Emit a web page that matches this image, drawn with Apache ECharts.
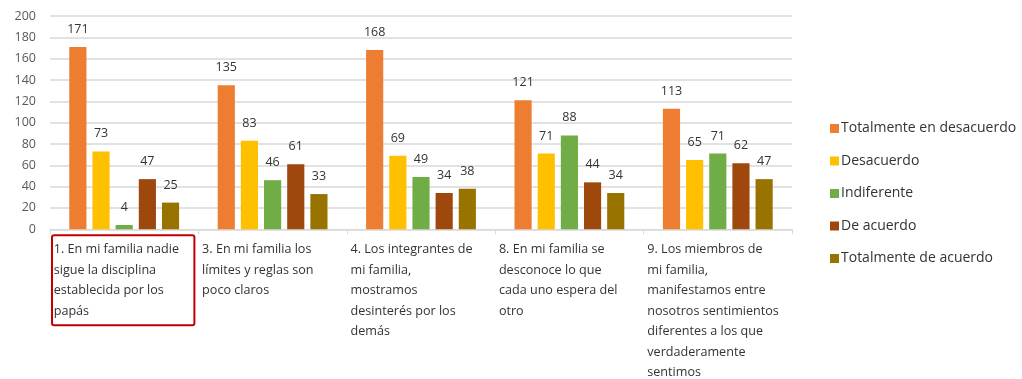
<!DOCTYPE html>
<html>
<head>
<meta charset="utf-8">
<script src="https://cdn.jsdelivr.net/npm/echarts@6/dist/echarts.min.js"></script>
<style>
  html, body { margin: 0; padding: 0; background: #fff; }
  #chart { width: 1022px; height: 379px; }
</style>
</head>
<body>
<div id="chart"></div>
<script>
// Survey items (category labels, line breaks as displayed)
const categories = [
  '1. En mi familia nadie\nsigue la disciplina\nestablecida por los\npapás',
  '3. En mi familia los\nlímites y reglas son\npoco claros',
  '4. Los integrantes de\nmi familia,\nmostramos\ndesinterés por los\ndemás',
  '8. En mi familia se\ndesconoce lo que\ncada uno espera del\notro',
  '9. Los miembros de\nmi familia,\nmanifestamos entre\nnosotros sentimientos\ndiferentes a los que\nverdaderamente\nsentimos'
];

const seriesNames = [
  'Totalmente en desacuerdo',
  'Desacuerdo',
  'Indiferente',
  'De acuerdo',
  'Totalmente de acuerdo'
];

// Responses per answer option
const totalmenteDesacuerdo = [171, 135, 168, 121, 113];
const desacuerdo = [73, 83, 69, 71, 65];
const indiferente = [4, 46, 49, 88, 71];
const deAcuerdo = [47, 61, 34, 44, 62];
const totalmenteAcuerdo = [25, 33, 38, 34, 47];

const yTicks = { min: 0, max: 200, interval: 20 };

const seriesData = [totalmenteDesacuerdo, desacuerdo, indiferente, deAcuerdo, totalmenteAcuerdo];
const colors = ['#ED7D31', '#FFC000', '#70AD47', '#9E480E', '#997300'];

const FONT = '"Open Sans", "Noto Sans", sans-serif';

const chart = echarts.init(document.getElementById('chart'));

const option = {
  animation: false,
  backgroundColor: '#ffffff',
  textStyle: { fontFamily: FONT },
  grid: { left: 50, right: 230, top: 16, bottom: 148, containLabel: false },
  legend: {
    orient: 'vertical',
    left: 825,
    top: 114,
    itemWidth: 9,
    itemHeight: 9,
    itemGap: 13.5,
    icon: 'rect',
    textStyle: { fontFamily: FONT, fontSize: 14, lineHeight: 19, color: '#333333', padding: [0, 0, 0, -3] },
    data: seriesNames
  },
  xAxis: {
    type: 'category',
    data: categories,
    axisLine: { show: true, lineStyle: { color: '#d9d9d9', width: 1 } },
    axisTick: { show: true, length: 5, lineStyle: { color: '#d9d9d9' } },
    axisLabel: {
      interval: 0,
      margin: 10,
      formatter: function (value) {
        return value.split('\n').map(function (l) { return '{t|' + l + '}'; }).join('\n');
      },
      rich: {
        t: {
          width: 141,
          align: 'left',
          fontFamily: FONT,
          fontSize: 12.6,
          lineHeight: 20.5,
          color: '#333333'
        }
      }
    }
  },
  yAxis: {
    type: 'value',
    min: yTicks.min,
    max: yTicks.max,
    interval: yTicks.interval,
    axisLine: { show: false },
    axisTick: { show: false },
    axisLabel: { fontFamily: FONT, fontSize: 12.5, color: '#595959', margin: 14 },
    splitLine: { lineStyle: { color: '#d9d9d9', width: 1.5 } }
  },
  series: seriesNames.map(function (name, i) {
    return {
      name: name,
      type: 'bar',
      data: seriesData[i],
      barCategoryGap: '26%',
      barGap: '35%',
      itemStyle: { color: colors[i] },
      label: {
        show: true,
        position: 'top',
        distance: 11,
        fontFamily: FONT,
        fontSize: 12.5,
        color: '#333333'
      }
    };
  })
};

chart.setOption(option);

// Highlight frame around the first survey item's label
const c0 = chart.convertToPixel({ xAxisIndex: 0 }, 0);
const c1 = chart.convertToPixel({ xAxisIndex: 0 }, 1);
const catW = c1 - c0;
const axisY = chart.convertToPixel({ yAxisIndex: 0 }, 0);
chart.setOption({
  graphic: [{
    type: 'rect',
    shape: { x: c0 - catW / 2 + 2, y: axisY + 6, width: catW - 6, height: 90, r: 2 },
    style: { fill: 'none', stroke: '#C00000', lineWidth: 2 },
    z: 100
  }]
});
</script>
</body>
</html>
